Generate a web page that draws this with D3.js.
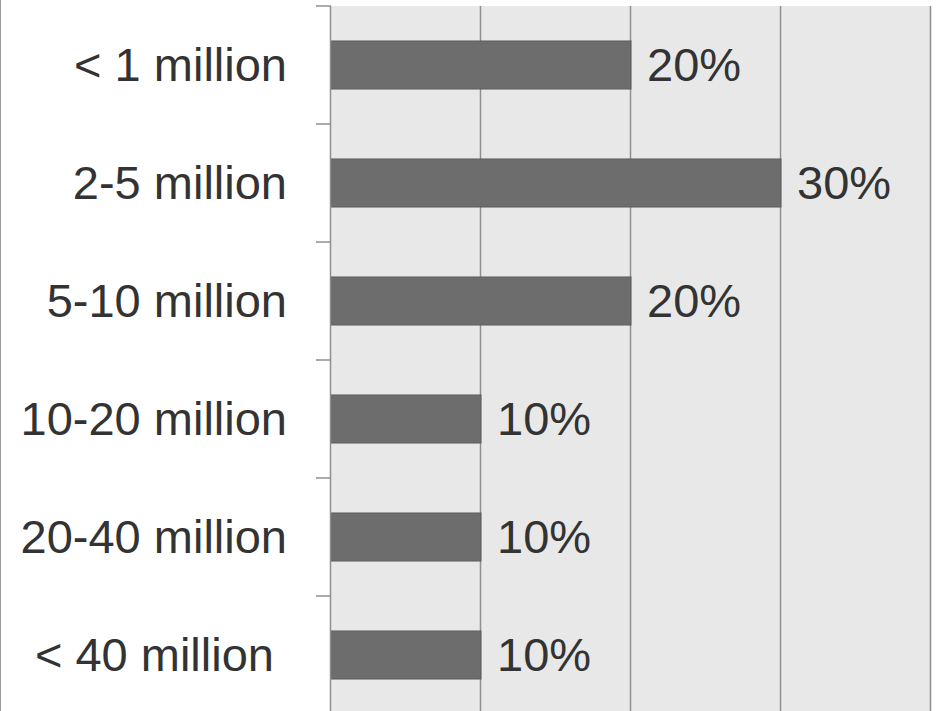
<!DOCTYPE html>
<html>
<head>
<meta charset="utf-8">
<script src="https://cdn.jsdelivr.net/npm/d3@7"></script>
<style>
  html, body { margin: 0; padding: 0; background: #fff; }
  svg { display: block; }
  text { font-family: "Liberation Sans", Arial, sans-serif; fill: #333; }
</style>
</head>
<body>
<svg id="chart" width="939" height="711"></svg>
<script>
// Share of companies by revenue band (percent)
const categories = ["< 1 million", "2-5 million", "5-10 million", "10-20 million", "20-40 million", "< 40 million "];
const values = [20, 30, 20, 10, 10, 10];
const xTicks = [0, 10, 20, 30, 40];
const valueLabels = ["20%", "30%", "20%", "10%", "10%", "10%"];

const svg = d3.select("#chart");
const plotLeft = 331, plotRight = 931, plotTop = 6, plotBottom = 714;

const x = d3.scaleLinear().domain([0, 40]).range([plotLeft, plotRight]);
const y = d3.scaleBand().domain(categories).range([plotTop, plotBottom])
  .paddingInner(0.593).paddingOuter(0.2965);
const step = y.step();

// frame line on the left edge
svg.append("line").attr("x1", 0.5).attr("x2", 0.5).attr("y1", 0).attr("y2", 711)
  .attr("stroke", "#9a9a9a").attr("stroke-width", 1);

// plot background
svg.append("rect").attr("x", plotLeft).attr("y", plotTop)
  .attr("width", plotRight - plotLeft).attr("height", plotBottom - plotTop)
  .attr("fill", "#e8e8e8");

// vertical gridlines
svg.append("g").selectAll("line").data(xTicks.slice(1)).join("line")
  .attr("x1", d => Math.round(x(d)) - 0.5).attr("x2", d => Math.round(x(d)) - 0.5)
  .attr("y1", plotTop).attr("y2", plotBottom)
  .attr("stroke", "#8f8f8f").attr("stroke-width", 1.5);

// bars
svg.append("g").selectAll("rect").data(categories).join("rect")
  .attr("x", x(0))
  .attr("y", d => y(d))
  .attr("width", (d, i) => x(values[i]) - x(0))
  .attr("height", y.bandwidth())
  .attr("fill", "#6d6d6d")
  .attr("stroke", "#5e5e5e").attr("stroke-width", 1);

// category axis line and band-boundary ticks
const boundaries = categories.map(c => y(c) - step * y.paddingInner() / 2)
  .concat([plotBottom]);
svg.append("line").attr("x1", plotLeft - 0.5).attr("x2", plotLeft - 0.5)
  .attr("y1", plotTop).attr("y2", plotBottom)
  .attr("stroke", "#8f8f8f").attr("stroke-width", 1.5);
svg.append("g").selectAll("line").data(boundaries).join("line")
  .attr("x1", plotLeft - 15).attr("x2", plotLeft)
  .attr("y1", d => d).attr("y2", d => d)
  .attr("stroke", "#8f8f8f").attr("stroke-width", 1.5);

// category labels
svg.append("g").selectAll("text").data(categories).join("text")
  .attr("x", 287)
  .attr("y", d => y(d) + y.bandwidth() / 2)
  .attr("dy", "0.35em")
  .attr("text-anchor", "end")
  .style("white-space", "pre")
  .attr("font-size", 47)
  .text(d => d);

// value labels
svg.append("g").selectAll("text").data(categories).join("text")
  .attr("x", (d, i) => x(values[i]) + 16)
  .attr("y", d => y(d) + y.bandwidth() / 2)
  .attr("dy", "0.35em")
  .attr("font-size", 47)
  .text((d, i) => valueLabels[i]);
</script>
</body>
</html>
